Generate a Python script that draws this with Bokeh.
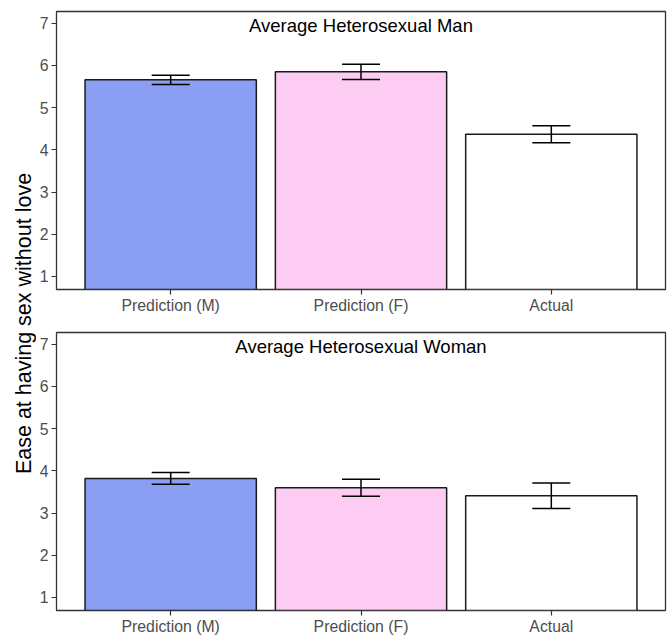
import math
from bokeh.plotting import figure
from bokeh.models import ColumnDataSource, Range1d, FactorRange, Whisker, TeeHead, Label, FixedTicker
from bokeh.layouts import row, column
from bokeh.core.properties import value
from bokeh.embed import file_html
from bokeh.resources import INLINE

# ---- data ----
categories = ["Prediction (M)", "Prediction (F)", "Actual"]
bar_colors = ["#8A9EF4", "#FDCCF2", "#FFFFFF"]
panel_titles = ["Average Heterosexual Man", "Average Heterosexual Woman"]
man_means = [5.66, 5.85, 4.37]
man_errors = [0.11, 0.18, 0.20]
woman_means = [3.82, 3.60, 3.41]
woman_errors = [0.14, 0.20, 0.30]
y_ticks = [1, 2, 3, 4, 5, 6, 7]
y_label = "Ease at having sex without love"

FONT = "Liberation Sans"
LABEL_W = 36
FRAME_W = 609
FRAME_H = 278
TOTAL_H = 635


def make_panel(title, means, errors, top_border, bottom_border):
    src = ColumnDataSource(dict(
        cat=categories,
        mean=means,
        upper=[m + e for m, e in zip(means, errors)],
        lower=[m - e for m, e in zip(means, errors)],
        color=bar_colors,
    ))
    p = figure(x_range=FactorRange(*categories, range_padding=0.1,
                                   range_padding_units="absolute"),
               y_range=Range1d(0.69, 7.28),
               frame_width=FRAME_W, frame_height=FRAME_H,
               min_border_left=19, min_border_right=2,
               min_border_top=top_border, min_border_bottom=bottom_border,
               output_backend="svg", toolbar_location=None,
               background_fill_color="white", border_fill_color="white")
    p.vbar(x="cat", top="mean", bottom=0, width=0.9, source=src,
           fill_color="color", line_color="#1a1a1a", line_width=1.5)
    w = Whisker(base="cat", upper="upper", lower="lower", source=src,
                line_color="black", line_width=1.5, level="overlay",
                upper_head=TeeHead(size=38, line_color="black", line_width=1.5),
                lower_head=TeeHead(size=38, line_color="black", line_width=1.5))
    p.add_layout(w)
    p.text(x=[categories[1]], y=[7], text=[title], text_align="center",
           text_baseline="middle", text_font=value(FONT),
           text_font_size="18.5px", text_color="black", y_offset=2)
    p.xgrid.visible = False
    p.ygrid.visible = False
    p.outline_line_color = "#333333"
    p.outline_line_width = 1.3
    p.yaxis.ticker = FixedTicker(ticks=y_ticks)
    for ax in (p.xaxis[0], p.yaxis[0]):
        ax.axis_line_color = None
        ax.major_tick_line_color = "#333333"
        ax.major_tick_line_width = 1.2
        ax.major_tick_out = 5
        ax.major_tick_in = 0
        ax.minor_tick_line_color = None
        ax.major_label_text_font = FONT
        ax.major_label_text_font_size = "15.8px"
        ax.major_label_text_color = "#4D4D4D"
        ax.major_label_standoff = 3
    p.xaxis.major_label_standoff = 2
    return p


top = make_panel(panel_titles[0], man_means, man_errors, 11, 33)
bot = make_panel(panel_titles[1], woman_means, woman_errors, 10, 25)

lab = figure(frame_width=LABEL_W, frame_height=TOTAL_H, min_border=0,
             x_range=Range1d(0, LABEL_W), y_range=Range1d(0, TOTAL_H),
             x_axis_type=None, y_axis_type=None,
             output_backend="svg", toolbar_location=None)
lab.outline_line_color = None
lab.xgrid.visible = False
lab.ygrid.visible = False
lab.add_layout(Label(x=23, y=TOTAL_H - 323, text=y_label, angle=math.pi / 2,
                     text_align="center", text_baseline="middle",
                     text_font=FONT, text_font_size="21.5px", text_color="black"))

layout = row(lab, column(top, bot, spacing=0), spacing=0)

with open("out.html", "w") as f:
    f.write(file_html(layout, INLINE))
